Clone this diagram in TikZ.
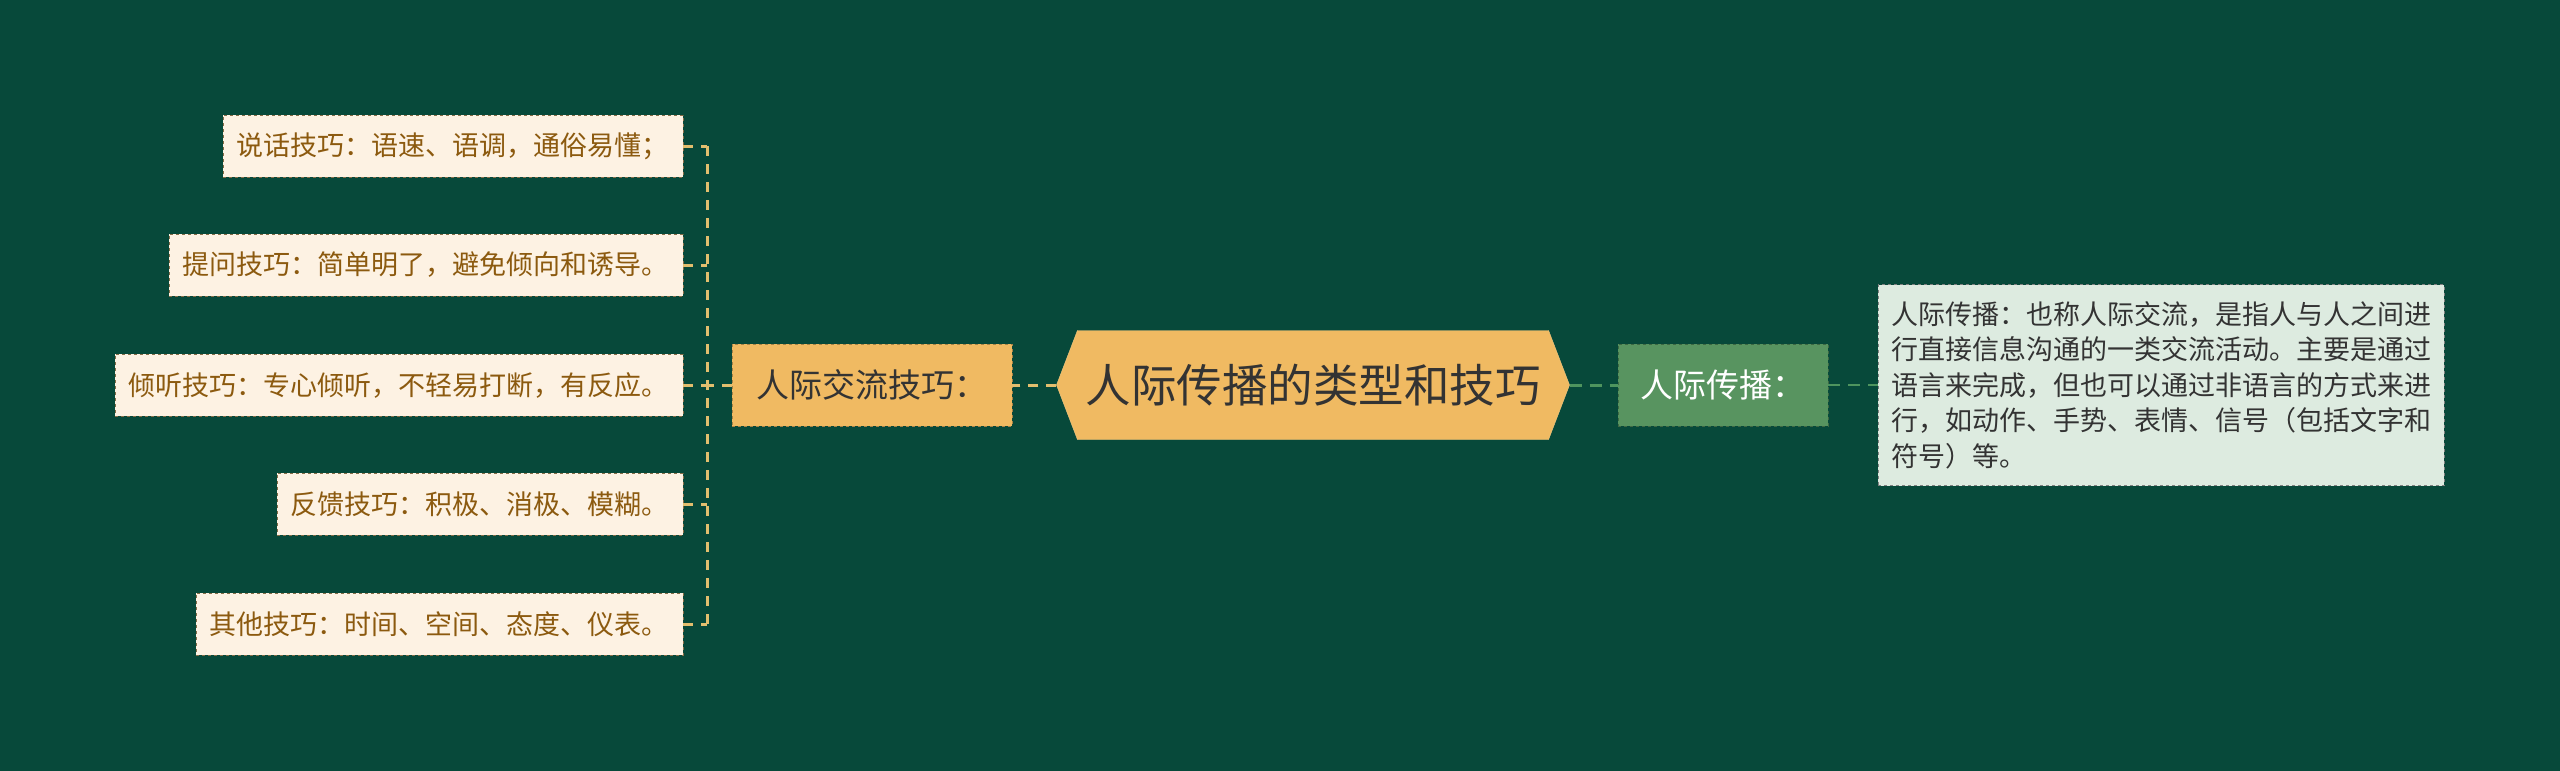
\documentclass[tikz,border=0pt]{standalone}
\usepackage{fontspec}
\setmainfont{Noto Sans CJK SC}
\usetikzlibrary{shapes.symbols}
\definecolor{bg}{RGB}{7,73,58}
\definecolor{gold}{RGB}{240,186,98}
\definecolor{goldline}{RGB}{226,190,110}
\definecolor{cream}{RGB}{253,242,227}
\definecolor{brown}{RGB}{140,90,15}
\definecolor{leafgreen}{RGB}{88,148,96}
\definecolor{greenline}{RGB}{78,148,94}
\definecolor{mint}{RGB}{221,235,224}
\tikzstyle{hub}=[signal,signal to=west and east,signal pointer angle=138,fill=gold,draw=gold!80!white,
  minimum width=513,minimum height=109,inner xsep=8,text=black!80,font=\fontsize{45.5pt}{50pt}\selectfont]
\tikzstyle{branch}=[fill=gold,draw=gold!70!black,dashed,minimum width=280,minimum height=82,
  text=black!80,font=\fontsize{33pt}{36pt}\selectfont]
\tikzstyle{gbranch}=[fill=leafgreen,draw=leafgreen!70!black,dashed,minimum width=210,minimum height=82,
  text=white,font=\fontsize{33pt}{36pt}\selectfont]
\tikzstyle{leaf}=[anchor=east,fill=cream,draw=brown!50!gray,dashed,minimum height=62,inner xsep=14,
  text=brown,font=\fontsize{27pt}{32pt}\selectfont]
\tikzstyle{note}=[fill=mint,draw=gray,dashed,minimum width=566,minimum height=201,align=left,
  text=black!80,font=\fontsize{27pt}{35.5pt}\selectfont]
\tikzstyle{gl}=[goldline,line width=3,dash pattern=on 10 off 8]
\tikzstyle{grl}=[greenline,line width=3,dash pattern=on 12 off 8]

\begin{document}
\begin{tikzpicture}[x=1pt,y=-1pt]
    \fill[bg] (0,0) rectangle (2560,771);
    \useasboundingbox (0,0) rectangle (2560,771);

    \node[hub] (hub) at (1313,385) {人际传播的类型和技巧};
    \node[branch] (skill) at (872,385) {人际交流技巧：};
    \node[gbranch] (comm) at (1723,385) {人际传播：};
    \node[note] (def) at (2161,385) {人际传播：也称人际交流，是指人与人之间进\\
        行直接信息沟通的一类交流活动。主要是通过\\
        语言来完成，但也可以通过非语言的方式来进\\
        行，如动作、手势、表情、信号（包括文字和\\
        符号）等。};

    \coordinate (trunk) at (707,385);
    \node[leaf] (say) at (683,146) {说话技巧：语速、语调，通俗易懂；};
    \node[leaf] (ask) at (683,265) {提问技巧：简单明了，避免倾向和诱导。};
    \node[leaf] (listen) at (683,385) {倾听技巧：专心倾听，不轻易打断，有反应。};
    \node[leaf] (feed) at (683,504) {反馈技巧：积极、消极、模糊。};
    \node[leaf] (other) at (683,624) {其他技巧：时间、空间、态度、仪表。};

    \draw[gl] (hub.west) -- (skill.east);
    \draw[gl] (skill.west) -- (trunk);
    \draw[gl] (say.east -| trunk) -- (other.east -| trunk);
    \foreach \n in {say,ask,listen,feed,other}
        \draw[gl] (\n.east) -- (\n.east -| trunk);

    \draw[grl] (hub.east) -- (comm.west);
    \draw[grl,line width=2] (comm.east) -- (def.west);
\end{tikzpicture}
\end{document}
